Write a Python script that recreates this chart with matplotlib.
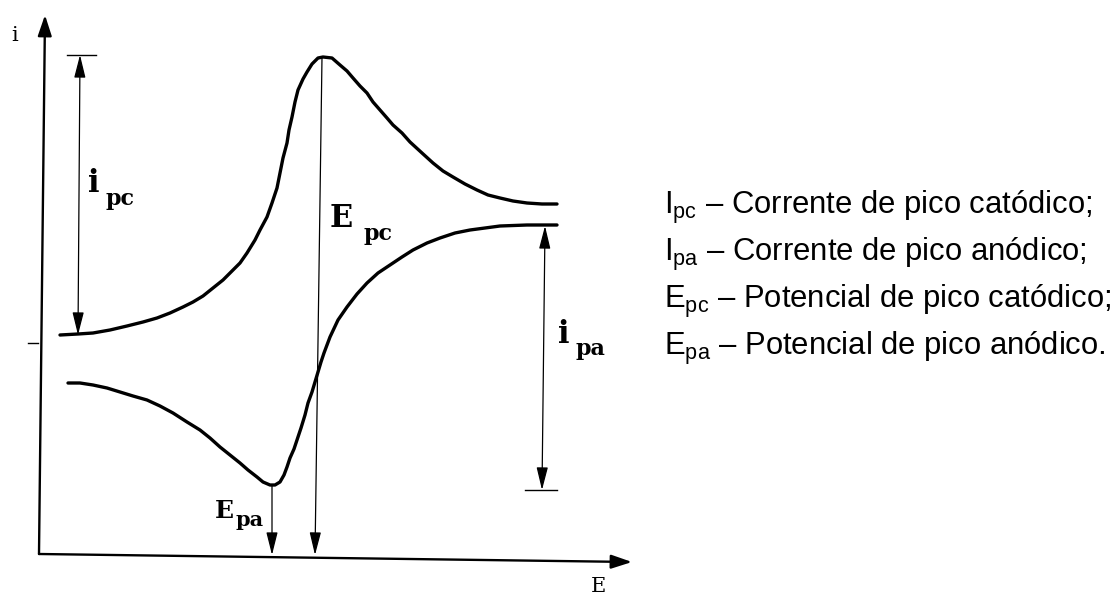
import matplotlib
matplotlib.use("Agg")
import matplotlib.pyplot as plt

plt.rcParams['mathtext.fontset'] = 'custom'
plt.rcParams['mathtext.rm'] = 'Liberation Sans'
plt.rcParams['mathtext.it'] = 'Liberation Sans:italic'
plt.rcParams['mathtext.bf'] = 'Liberation Sans:bold'

# ---- data (arbitrary units) ----
# forward (cathodic) sweep
cath_E = [20, 38, 53, 70, 87, 103, 117, 130, 143, 153, 163, 173, 183, 190, 200,
          207, 215, 220, 227, 232, 237, 240, 243, 247, 249, 252, 255, 258, 263,
          267, 272, 278, 283, 292, 300, 307, 313, 320, 327, 333, 340, 347, 353,
          362, 370, 382, 393, 403, 413, 425, 437, 448, 460, 473, 487, 502, 517]
cath_i = [220, 221, 222, 225, 229, 233, 237, 242, 248, 253, 259, 267, 275, 282, 292,
          302, 315, 325, 338, 352, 367, 382, 397, 412, 425, 438, 453, 465, 476,
          483, 491, 497, 498, 497, 490, 484, 477, 469, 462, 453, 445, 437, 430,
          422, 413, 402, 392, 384, 378, 371, 365, 360, 357, 354, 352, 351, 351]
# reverse (anodic) sweep
anod_E = [28, 40, 53, 67, 80, 93, 107, 120, 133, 147, 160, 170, 180, 190, 200,
          208, 217, 223, 230, 235, 240, 244, 247, 250, 254, 257, 261, 265, 268,
          272, 275, 278, 281, 284, 287, 290, 298, 307, 317, 327, 338, 350, 362,
          373, 387, 400, 415, 430, 445, 460, 487, 517]
anod_i = [172, 172, 170, 167, 163, 159, 155, 149, 142, 133, 125, 117, 108, 100, 92,
          85, 78, 73, 70, 70, 73, 80, 88, 97, 106, 115, 127, 140, 152,
          163, 173, 183, 193, 202, 210, 218, 235, 248, 261, 272, 282, 290, 298,
          305, 312, 317, 322, 325, 327, 329, 330, 330]

E_pc = (282, 275)      # top / bottom of the E_pc marker line
E_pa = (232, 232)
i_pc_top, i_pc_base = 500, 220
i_pa_top, i_pa_base = 329, 65

legend_lines = [
    (r'$\mathregular{I_{pc}}$', ' – Corrente de pico catódico;'),
    (r'$\mathregular{I_{pa}}$', ' – Corrente de pico anódico;'),
    (r'$\mathregular{E_{pc}}$', ' – Potencial de pico catódico;'),
    (r'$\mathregular{E_{pa}}$', ' – Potencial de pico anódico.'),
]

# ---- figure ----
fig = plt.figure(figsize=(11.2, 5.94), dpi=100)
ax = fig.add_axes([0, 0, 1, 1])
ax.set_xlim(-40, 1080)
ax.set_ylim(-39, 555)
ax.axis('off')

ax.plot(cath_E, cath_i, color='black', lw=2.4, solid_capstyle='round',
        solid_joinstyle='round')
ax.plot(anod_E, anod_i, color='black', lw=2.4, solid_capstyle='round',
        solid_joinstyle='round')

# axes with arrows
axis_style = dict(arrowstyle='-|>,head_length=0.9,head_width=0.3', color='black',
                  lw=1.7, shrinkA=0, shrinkB=0, mutation_scale=14)
ax.annotate('', xy=(5, 540), xytext=(-1, 1), arrowprops=axis_style)
ax.annotate('', xy=(592, -7), xytext=(-1, 1), arrowprops=axis_style)
ax.plot([-12, -2], [212, 212], color='black', lw=1.0)

thin_one = dict(arrowstyle='-|>,head_length=1.0,head_width=0.25', color='black',
                lw=0.9, shrinkA=0, shrinkB=0, mutation_scale=14)
thin_two = dict(arrowstyle='<|-|>,head_length=1.0,head_width=0.25', color='black',
                lw=0.9, shrinkA=0, shrinkB=0, mutation_scale=14)

# E_pc and E_pa markers
ax.annotate('', xy=(E_pc[1], 0), xytext=(E_pc[0], max(cath_i)), arrowprops=thin_one)
ax.annotate('', xy=(E_pa[1], 0), xytext=(E_pa[0], min(anod_i)), arrowprops=thin_one)

# i_pc and i_pa double arrows
ax.annotate('', xy=(40, i_pc_top), xytext=(38, i_pc_base), arrowprops=thin_two)
ax.plot([27, 56], [i_pc_top, i_pc_top], color='black', lw=1.0)
ax.annotate('', xy=(505, i_pa_top), xytext=(502, i_pa_base), arrowprops=thin_two)
ax.plot([485, 517], [i_pa_base, i_pa_base], color='black', lw=1.0)

# labels
serif = 'DejaVu Serif'
ax.text(-25, 514, 'i', family=serif, fontsize=15, ha='center', va='baseline')
ax.text(558, -37, 'E', family=serif, fontsize=15, ha='center', va='baseline')

ax.text(48, 363, 'i', family=serif, fontweight='bold', fontsize=22, va='baseline')
ax.text(65, 350, 'pc', family=serif, fontweight='bold', fontsize=16, va='baseline')
ax.text(290, 328, 'E', family=serif, fontweight='bold', fontsize=22, va='baseline')
ax.text(323, 315, 'pc', family=serif, fontweight='bold', fontsize=16, va='baseline')
ax.text(518, 212, 'i', family=serif, fontweight='bold', fontsize=22, va='baseline')
ax.text(535, 200, 'pa', family=serif, fontweight='bold', fontsize=16, va='baseline')
ax.text(175, 37, 'E', family=serif, fontweight='bold', fontsize=18, va='baseline')
ax.text(195, 29, 'pa', family=serif, fontweight='bold', fontsize=15, va='baseline')

# legend text on the right
base_y = [341, 294, 247, 200]
for (sym, desc), y in zip(legend_lines, base_y):
    ax.text(624, y, sym + desc, family='Liberation Sans', fontsize=22.3,
            va='baseline', ha='left')

fig.savefig('out.png', dpi=100, facecolor='white')
